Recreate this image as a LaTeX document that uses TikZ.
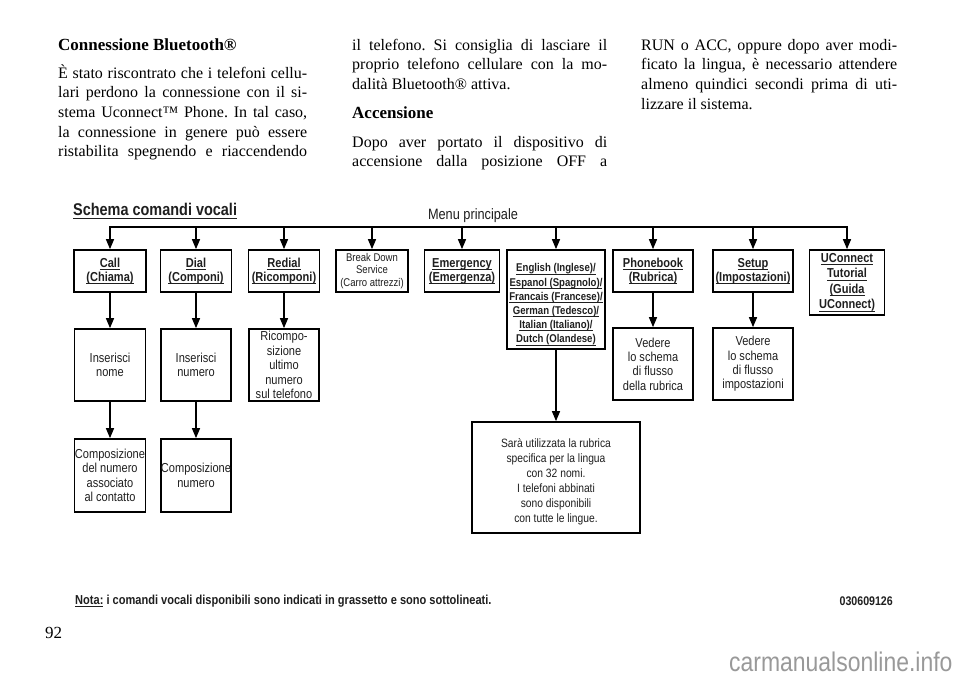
\documentclass[tikz,border=0pt]{standalone}
\usepackage{fontspec}
\setmainfont{Liberation Serif}
\setsansfont{Liberation Sans}[FakeStretch=0.85]
\usetikzlibrary{arrows.meta}
\newsavebox\ulbox
\newcommand{\myul}[1]{\sbox\ulbox{#1}\rlap{\rule[-2.6pt]{\wd\ulbox}{0.9pt}}\usebox\ulbox}
\newcommand{\bodyfont}{\fontsize{16}{19.7}\selectfont}
\frenchspacing
\tikzset{
  bbox/.style={draw=black, line width=1.7pt, inner sep=0pt, align=center, text=black!88},
  btext/.style={inner sep=0pt, align=center, text=black!88},
  boldf/.style={font=\sffamily\bfseries\fontsize{13}{14}\selectfont},
  regf/.style={font=\sffamily\fontsize{13}{14.4}\selectfont},
  conn/.style={line width=1.4pt, draw=black},
  arr/.style={conn, -{Triangle[length=10pt,width=8pt]}},
  bline/.style={anchor=base west, inner sep=0pt, font=\bodyfont},
  bhead/.style={anchor=base west, inner sep=0pt, font=\fontsize{17}{20}\selectfont\bfseries},
}
\begin{document}
\begin{tikzpicture}[x=1pt,y=-1pt]
\fill[white] (0,0) rectangle (960,678);
\useasboundingbox (0,0) rectangle (960,678);

% ---------- body text, column 1
\node[bhead] (h1) at (58,50) {Connessione Bluetooth®};
\node[bline] (a1) at (58,78) {\makebox[249pt][s]{È stato riscontrato che i telefoni cellu-}};
\node[bline] (a2) at (58,97.7) {\makebox[249pt][s]{lari perdono la connessione con il si-}};
\node[bline] (a3) at (58,117.4) {\makebox[249pt][s]{stema Uconnect™ Phone. In tal caso,}};
\node[bline] (a4) at (58,137.1) {\makebox[249pt][s]{la connessione in genere può essere}};
\node[bline] (a5) at (58,156.8) {\makebox[249pt][s]{ristabilita spegnendo e riaccendendo}};
% ---------- column 2
\node[bline] (b1) at (352,50) {\makebox[255pt][s]{il telefono. Si consiglia di lasciare il}};
\node[bline] (b2) at (352,69.7) {\makebox[255pt][s]{proprio telefono cellulare con la mo-}};
\node[bline] (b3) at (352,89.4) {dalità Bluetooth® attiva.};
\node[bhead] (h2) at (352,118) {Accensione};
\node[bline] (b4) at (352,147) {\makebox[255pt][s]{Dopo aver portato il dispositivo di}};
\node[bline] (b5) at (352,166.7) {\makebox[255pt][s]{accensione dalla posizione OFF a}};
% ---------- column 3
\node[bline] (c1) at (641,50) {\makebox[256pt][s]{RUN o ACC, oppure dopo aver modi-}};
\node[bline] (c2) at (641,69.7) {\makebox[256pt][s]{ficato la lingua, è necessario attendere}};
\node[bline] (c3) at (641,89.4) {\makebox[256pt][s]{almeno quindici secondi prima di uti-}};
\node[bline] (c4) at (641,109.1) {lizzare il sistema.};

% ---------- diagram titles
\node[anchor=west, inner sep=0pt, font=\sffamily\bfseries\fontsize{17}{19}\selectfont, text=black!88] (title) at (73,211) {\myul{Schema comandi vocali}};
\node[inner sep=0pt, font=\sffamily\fontsize{15}{17}\selectfont, text=black!88] (menu) at (473,216) {Menu principale};

% ---------- row 1
\node[bbox, boldf, minimum width=72pt, minimum height=42pt] (call) at (110,271) {\myul{Call}\\\myul{(Chiama)}};
\node[bbox, boldf, minimum width=71pt, minimum height=42pt] (dial) at (196,271) {\myul{Dial}\\\myul{(Componi)}};
\node[bbox, boldf, minimum width=71pt, minimum height=42pt] (redial) at (284,271) {\myul{Redial}\\\myul{(Ricomponi)}};
\node[bbox, font=\sffamily\fontsize{11.2}{12.6}\selectfont, minimum width=72pt, minimum height=42pt] (brk) at (372,271) {Break Down\\Service\\(Carro attrezzi)};
\node[bbox, boldf, minimum width=75pt, minimum height=42pt] (emerg) at (462,271) {\myul{Emergency}\\\myul{(Emergenza)}};
\node[bbox, minimum width=98pt, minimum height=99pt] (lang) at (556,299.5) {};
\node[btext, font=\sffamily\bfseries\fontsize{11.3}{14.2}\selectfont] (langtxt) at (556,304.5) {\myul{English (Inglese)/}\\\myul{Espanol (Spagnolo)/}\\\myul{Francais (Francese)/}\\\myul{German (Tedesco)/}\\\myul{Italian (Italiano)/}\\\myul{Dutch (Olandese)}};
\node[bbox, boldf, minimum width=80pt, minimum height=42pt] (phone) at (653,271) {\myul{Phonebook}\\\myul{(Rubrica)}};
\node[bbox, boldf, minimum width=80pt, minimum height=42pt] (setup) at (753,271) {\myul{Setup}\\\myul{(Impostazioni)}};
\node[bbox, font=\sffamily\bfseries\fontsize{13}{15.5}\selectfont, minimum width=75pt, minimum height=65pt] (ucon) at (847,282.5) {\myul{UConnect}\\\myul{Tutorial}\\\myul{(Guida}\\\myul{UConnect)}};

% ---------- row 2
\node[bbox, regf, minimum width=71pt, minimum height=72pt] (nome) at (110,365) {Inserisci\\nome};
\node[bbox, regf, minimum width=70pt, minimum height=72pt] (numero) at (196,365) {Inserisci\\numero};
\node[bbox, regf, minimum width=70pt, minimum height=72pt] (ricomp) at (284,365) {Ricompo-\\sizione\\ultimo\\numero\\sul telefono};
\node[bbox, regf, minimum width=80pt, minimum height=72pt] (vrub) at (653,364) {Vedere\\lo schema\\di flusso\\della rubrica};
\node[bbox, regf, minimum width=80pt, minimum height=72pt] (vimp) at (753,364) {Vedere\\lo schema\\di flusso\\impostazioni};

% ---------- row 3
\node[bbox, regf, minimum width=71pt, minimum height=73pt] (compa) at (110,475.5) {Composizione\\del numero\\associato\\al contatto};
\node[bbox, regf, minimum width=70pt, minimum height=73pt] (compb) at (196,475.5) {Composizione\\numero};
\node[bbox, minimum width=168pt, minimum height=111pt] (sara) at (556,477.5) {};
\node[btext, font=\sffamily\fontsize{12.1}{15}\selectfont] (saratxt) at (556,481.5) {Sarà utilizzata la rubrica\\specifica per la lingua\\con 32 nomi.\\I telefoni abbinati\\sono disponibili\\con tutte le lingue.};

% ---------- connectors
\coordinate (t1) at (110,227);
\coordinate (t2) at (196,227);
\coordinate (t3) at (284,227);
\coordinate (t4) at (372,227);
\coordinate (t5) at (462,227);
\coordinate (t6) at (556,227);
\coordinate (t7) at (653,227);
\coordinate (t8) at (753,227);
\coordinate (t9) at (847,227);
\draw[conn, line cap=rect] (t1) -- (t9);
\draw[arr] (t1) -- (call.north);
\draw[arr] (t2) -- (dial.north);
\draw[arr] (t3) -- (redial.north);
\draw[arr] (t4) -- (brk.north);
\draw[arr] (t5) -- (emerg.north);
\draw[arr] (t6) -- (lang.north);
\draw[arr] (t7) -- (phone.north);
\draw[arr] (t8) -- (setup.north);
\draw[arr] (t9) -- (ucon.north);
\draw[arr] (call.south) -- (nome.north);
\draw[arr] (dial.south) -- (numero.north);
\draw[arr] (redial.south) -- (ricomp.north);
\draw[arr] (phone.south) -- (vrub.north);
\draw[arr] (setup.south) -- (vimp.north);
\draw[arr] (nome.south) -- (compa.north);
\draw[arr] (numero.south) -- (compb.north);
\draw[arr] (lang.south) -- (sara.north);

% ---------- notes
\node[anchor=west, inner sep=0pt, font=\sffamily\bfseries\fontsize{13}{14}\selectfont, text=black!88] (nota) at (75,601) {\myul{Nota:} i comandi vocali disponibili sono indicati in grassetto e sono sottolineati.};
\node[anchor=east, inner sep=0pt, font=\sffamily\bfseries\fontsize{12.5}{14}\selectfont, text=black!88] (code) at (893,601) {030609126};
\node[anchor=base west, inner sep=0pt, font=\fontsize{17}{20}\selectfont] (page) at (45,638) {92};
\node[anchor=west, inner sep=0pt, font=\sffamily\fontsize{27}{30}\selectfont, text=black!40] (wm) at (729,662) {carmanualsonline.info};
\end{tikzpicture}
\end{document}
